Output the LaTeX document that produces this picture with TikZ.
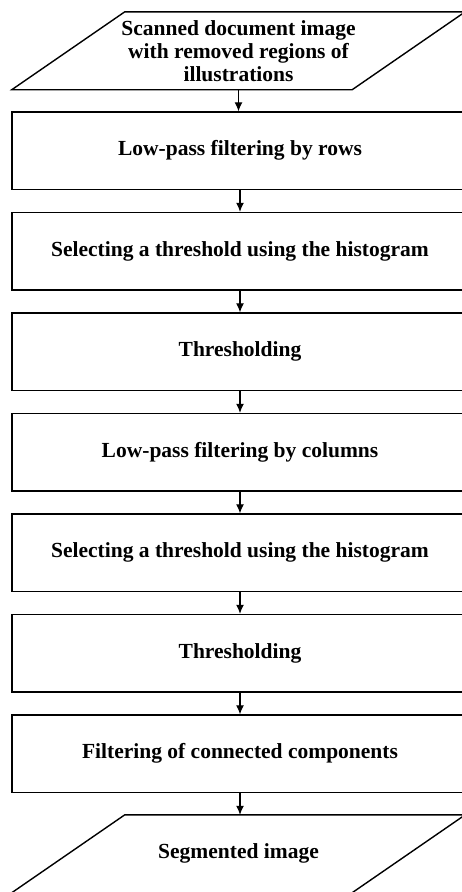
\documentclass[tikz,border=0pt]{standalone}
\usepackage{fontspec}
\setmainfont{Liberation Serif}
\usetikzlibrary{arrows.meta,positioning}

\tikzset{
  stepbox/.style={draw,line width=1.4pt,minimum width=456pt,minimum height=77.5pt,
    inner sep=0pt,align=center,font=\fontsize{21.5}{23}\selectfont\bfseries},
  iobox/.style={minimum width=453pt,minimum height=77.5pt,inner sep=0pt,
    align=center,font=\fontsize{21.5}{23}\selectfont\bfseries},
  flow/.style={-{Latex[length=9pt,width=8pt]},line width=1.1pt}
}

\begin{document}
\begin{tikzpicture}[node distance=21.6pt]
  \useasboundingbox (0,0) rectangle (462pt,-892pt);
  \clip (0,0) rectangle (462pt,-892pt);
  \node[iobox] (input) at (238.5pt,-50.75pt)
    {Scanned document image\\with removed regions of\\illustrations};
  \node[stepbox,below=of input,xshift=1.5pt] (rows) {Low-pass filtering by rows};
  \node[stepbox,below=of rows] (histA) {Selecting a threshold using the histogram};
  \node[stepbox,below=of histA] (threshA) {Thresholding};
  \node[stepbox,below=of threshA] (cols) {Low-pass filtering by columns};
  \node[stepbox,below=of cols] (histB) {Selecting a threshold using the histogram};
  \node[stepbox,below=of histB] (threshB) {Thresholding};
  \node[stepbox,below=of threshB] (comps) {Filtering of connected components};
  \node[iobox,below=of comps,xshift=-1.5pt] (output) {Segmented image};
  % slanted outlines of the input and output
  \foreach \io in {input,output}
    \draw[line width=1.4pt] ([xshift=113pt]\io.north west) -- (\io.north east)
      -- ([xshift=-113pt]\io.south east) -- (\io.south west) -- cycle;
  % arrows between the steps
  \foreach \from/\to in {input/rows,rows/histA,histA/threshA,threshA/cols,
      cols/histB,histB/threshB,threshB/comps,comps/output}
    \draw[flow] (\from.south) -- (\from.south |- \to.north);
\end{tikzpicture}
\end{document}
